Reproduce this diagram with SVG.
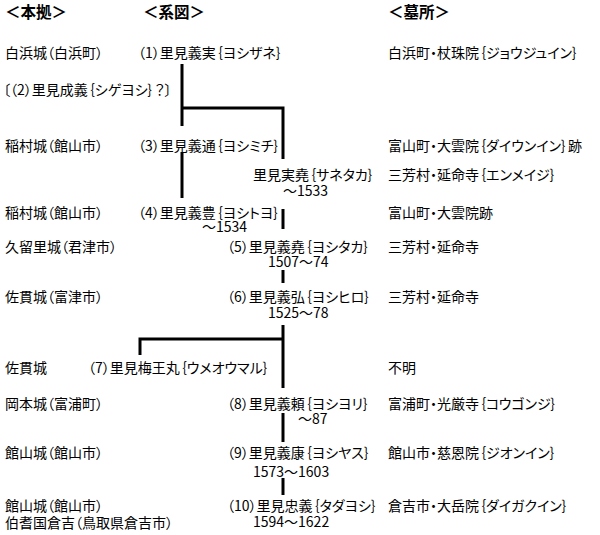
<svg xmlns="http://www.w3.org/2000/svg" width="600" height="535" viewBox="0 0 600 535">
<style>
text { font-family: "Noto Sans CJK JP", "Noto Sans CJK SC", sans-serif; fill: #000; }
.h { font-size: 15.5px; font-weight: bold; }
.t { font-size: 14px; font-feature-settings: "palt"; }
.ln { fill: none; stroke: #000; stroke-width: 3; stroke-linecap: butt; stroke-linejoin: miter; }
</style>
<rect width="600" height="535" fill="#fff"/>
<g id="headers">
<text class="h" x="5" y="18">＜本拠＞</text>
<text class="h" x="143" y="18">＜系図＞</text>
<text class="h" x="388" y="18">＜墓所＞</text>
</g>
<g id="connectors">
<path class="ln" d="M182,64 V126 M182,108 H283 V159"/>
<path class="ln" d="M182,152 V198"/>
<path class="ln" d="M283,209 V229"/>
<path class="ln" d="M283,270 V283"/>
<path class="ln" d="M283,325 V388 M283,339 H140 V355"/>
<path class="ln" d="M283,413 V442"/>
<path class="ln" d="M283,478 V495"/>
</g>
<g id="n1">
<text class="t" x="5" y="58">白浜城（白浜町）</text>
<text class="t" x="138" y="58">（1）里見義実｛ヨシザネ｝</text>
<text class="t" x="388" y="58">白浜町・杖珠院｛ジョウジュイン｝</text>
</g>
<g id="n2">
<text class="t" x="3" y="95">〔（2）里見成義｛シゲヨシ｝？〕</text>
</g>
<g id="n3">
<text class="t" x="5" y="151">稲村城（館山市）</text>
<text class="t" x="138" y="151">（3）里見義通｛ヨシミチ｝</text>
<text class="t" x="388" y="151">富山町・大雲院｛ダイウンイン｝跡</text>
</g>
<g id="n-sanetaka">
<text class="t" x="253" y="180">里見実堯｛サネタカ｝</text>
<text class="t" x="283" y="196">〜1533</text>
<text class="t" x="388" y="180">三芳村・延命寺｛エンメイジ｝</text>
</g>
<g id="n4">
<text class="t" x="5" y="218">稲村城（館山市）</text>
<text class="t" x="138" y="218">（4）里見義豊｛ヨシトヨ｝</text>
<text class="t" x="202" y="232">〜1534</text>
<text class="t" x="388" y="218">富山町・大雲院跡</text>
</g>
<g id="n5">
<text class="t" x="5" y="252">久留里城（君津市）</text>
<text class="t" x="227" y="252">（5）里見義堯｛ヨシタカ｝</text>
<text class="t" x="268" y="267">1507〜74</text>
<text class="t" x="388" y="252">三芳村・延命寺</text>
</g>
<g id="n6">
<text class="t" x="5" y="302">佐貫城（富津市）</text>
<text class="t" x="227" y="302">（6）里見義弘｛ヨシヒロ｝</text>
<text class="t" x="268" y="318">1525〜78</text>
<text class="t" x="388" y="302">三芳村・延命寺</text>
</g>
<g id="n7">
<text class="t" x="5" y="373">佐貫城</text>
<text class="t" x="88" y="373">（7）里見梅王丸｛ウメオウマル｝</text>
<text class="t" x="388" y="373">不明</text>
</g>
<g id="n8">
<text class="t" x="5" y="409">岡本城（富浦町）</text>
<text class="t" x="227" y="409">（8）里見義頼｛ヨシヨリ｝</text>
<text class="t" x="298" y="424">〜87</text>
<text class="t" x="388" y="409">富浦町・光厳寺｛コウゴンジ｝</text>
</g>
<g id="n9">
<text class="t" x="5" y="458">館山城（館山市）</text>
<text class="t" x="227" y="458">（9）里見義康｛ヨシヤス｝</text>
<text class="t" x="253" y="477">1573〜1603</text>
<text class="t" x="388" y="458">館山市・慈恩院｛ジオンイン｝</text>
</g>
<g id="n10">
<text class="t" x="5" y="511">館山城（館山市）</text>
<text class="t" x="5" y="528">伯耆国倉吉（鳥取県倉吉市）</text>
<text class="t" x="227" y="511">（10）里見忠義｛タダヨシ｝</text>
<text class="t" x="253" y="527">1594〜1622</text>
<text class="t" x="388" y="511">倉吉市・大岳院｛ダイガクイン｝</text>
</g>
</svg>
